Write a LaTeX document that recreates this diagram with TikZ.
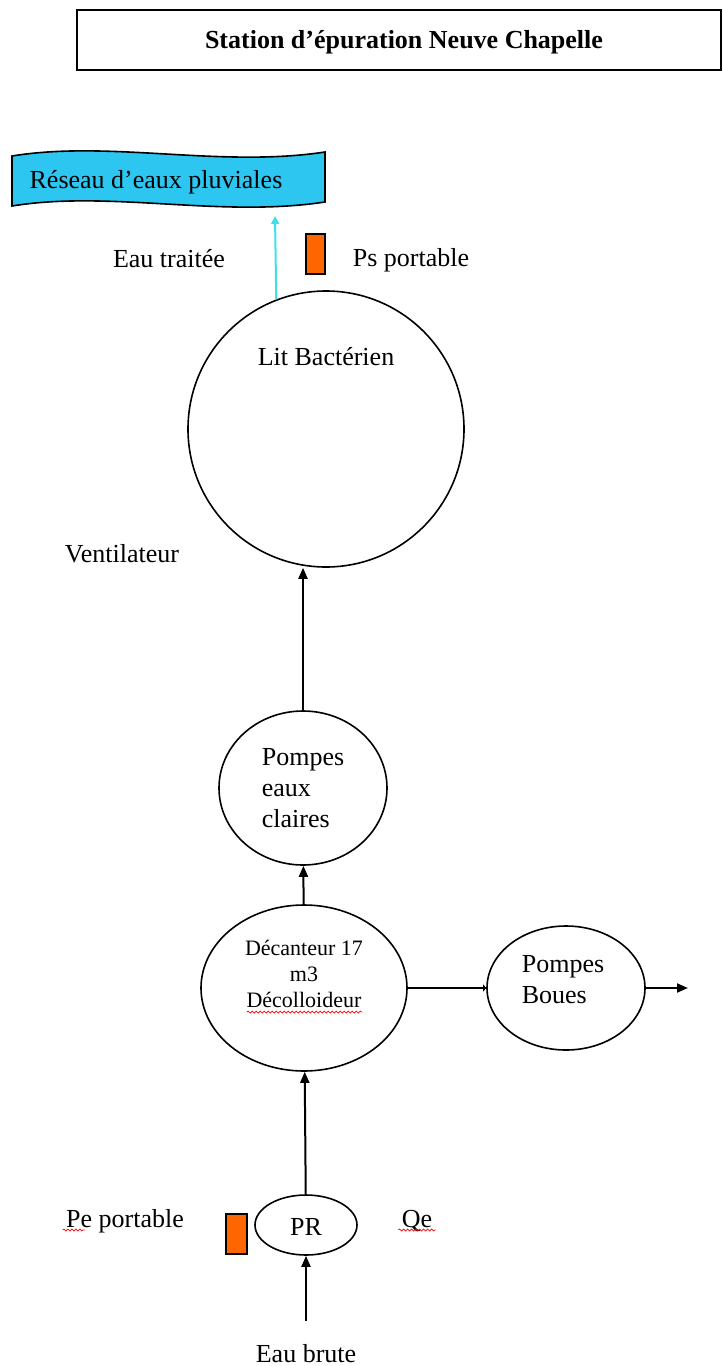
\documentclass[tikz,border=0pt]{standalone}
\usepackage{fontspec}
\setmainfont{Liberation Serif}
\usetikzlibrary{arrows.meta}
\usetikzlibrary{shapes.geometric, decorations.pathmorphing}

\definecolor{pluie}{RGB}{44,198,240}
\definecolor{sonde}{RGB}{255,102,0}
\definecolor{turquoise}{RGB}{64,224,232}

\tikzset{
  bassin/.style={ellipse, draw, line width=1.6pt, inner sep=0pt},
  fleche/.style={line width=2pt, -{Triangle[length=11pt,width=9pt]}},
  etiq/.style={font=\fontsize{26}{31}\selectfont},
  capteur/.style={draw, fill=sonde, line width=1.2pt, inner sep=0pt},
  souligne/.style={red, line width=0.7pt, decorate, decoration={snake, amplitude=1pt, segment length=4pt}}
}

\begin{document}
\begin{tikzpicture}[x=1pt, y=-1pt]
          \useasboundingbox (0,0) rectangle (723,1366);

          \draw [line width=2.5pt] (77,10) rectangle (721,70); % Draws the title frame
          \node [anchor=base, font=\bfseries\fontsize{26}{31}\selectfont] (titre) at (404,48) {Station d’épuration Neuve Chapelle};

          % wavy banner
          \draw [line width=1.6pt, fill=pluie] (12,156) .. controls (110,140) and (220,168) .. (325,152)
            -- (325,202) .. controls (220,218) and (110,190) .. (12,206) -- cycle;
          \node [etiq, anchor=base] (reseau) at (156,188) {Réseau d’eaux pluviales};
          \coordinate (rejet) at (275,216);

          \node [etiq, anchor=base] (traitee) at (169,267) {Eau traitée};
          \node [capteur, minimum width=19pt, minimum height=40pt] (ps) at (315.5,254) {};
          \node [etiq, anchor=base] (psport) at (411,266) {Ps portable};

          \node [circle, draw, line width=1.6pt, minimum size=276pt, inner sep=0pt] (lit) at (326,429) {};
          \node [etiq, anchor=base] (litnom) at (326,365) {Lit Bactérien};
          \node [etiq, anchor=base] (venti) at (122,562) {Ventilateur};

          \node [bassin, etiq, align=left, minimum width=168pt, minimum height=154pt] (pec) at (303,788) {Pompes\\eaux\\claires};

          \node [bassin, minimum width=206pt, minimum height=166pt] (dec) at (304,988) {};
          \node [align=center, font=\fontsize{22}{26}\selectfont] (decnom) at (304,974) {Décanteur~17\\m3\\Décolloideur};
          \node [bassin, minimum width=158pt, minimum height=124pt] (boues) at (566,988) {};
          \node [etiq, align=left] (bouesnom) at (563,980) {Pompes\\Boues};
          \coordinate (sortie) at (688,988);

          \node [bassin, minimum width=102pt, minimum height=60pt] (pr) at (306,1225) {};
          \node [etiq, anchor=base] (prnom) at (306,1235) {PR};
          \node [capteur, minimum width=21pt, minimum height=40pt] (pe) at (236.5,1234) {};
          \node [etiq, anchor=base] (peport) at (125,1227) {Pe portable};
          \node [etiq, anchor=base] (qe) at (417,1227) {Qe};
          \coordinate (brute) at (306,1321);
          \node [etiq, anchor=base] (eaubrute) at (306,1362) {Eau brute};

          \draw [fleche] (brute) -- (pr);
          \draw [fleche] (pr) -- (dec);
          \draw [fleche] (dec) -- (pec);
          \draw [fleche] (pec.north) -- (pec.north |- lit.south);
          \draw [line width=2pt, -{Triangle[length=3pt,width=7pt]}] (dec.east) -- (boues.west);
          \draw [fleche] (boues.east) -- (sortie);
          \draw [turquoise, line width=2pt, -{Triangle[length=8pt,width=8pt]}] (lit.111.7) -- (rejet);

          % spelling marks
          \draw [souligne] ([yshift=-3pt]peport.base west) -- ++(22,0);
          \draw [souligne] ([yshift=-3pt]qe.base west) -- ([yshift=-3pt]qe.base east);
          \draw [souligne] (247,1012) -- (362,1012);
        \end{tikzpicture}
\end{document}
